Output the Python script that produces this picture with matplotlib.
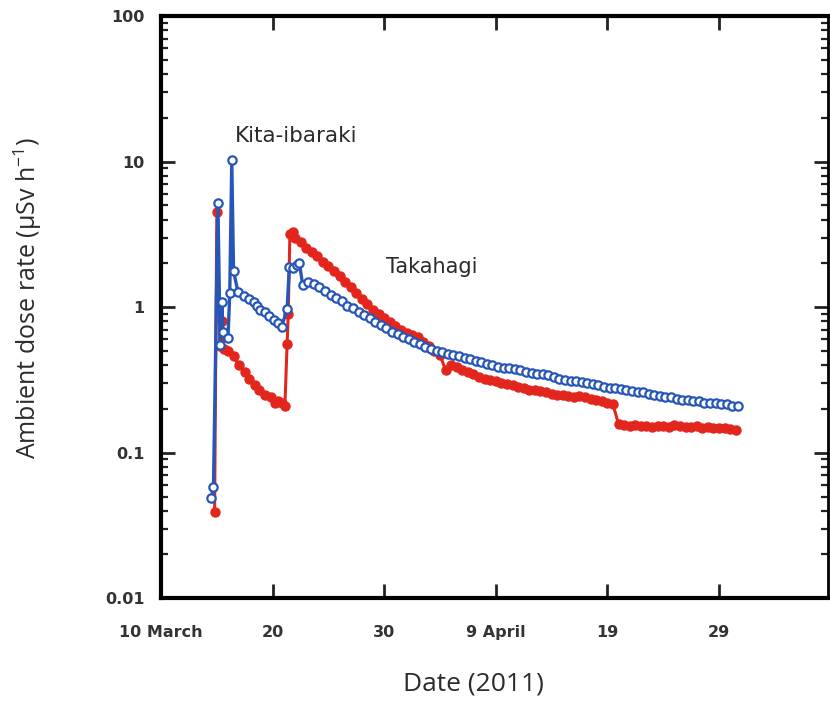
import numpy as np
from matplotlib import pyplot as plt
from matplotlib.ticker import LogLocator, NullFormatter, FixedLocator

# days after 10 March 2011, 00:00
kita_days_early = [4.5, 4.7, 5.1, 5.3, 5.45, 5.55, 6.0, 6.16, 6.34, 6.5, 6.9,
                   7.4, 7.9, 8.3, 8.6, 8.9, 9.3, 9.7, 10.1, 10.5, 10.8, 11.3,
                   11.5, 11.8, 12.2, 12.4]
kita_vals_early = [0.049, 0.058, 5.2, 0.55, 1.08, 0.68, 0.61, 1.25, 10.3, 1.77, 1.27,
                   1.19, 1.13, 1.08, 1.02, 0.96, 0.92, 0.87, 0.82, 0.78, 0.73, 0.97,
                   1.9, 1.85, 1.95, 2.0]
# half-day readings from 12.7 onwards
kita_vals_late = [1.42, 1.50, 1.45, 1.38, 1.30, 1.22, 1.15, 1.10, 1.02, 0.98,
                  0.93, 0.88, 0.84, 0.79, 0.76, 0.72, 0.68, 0.65, 0.62, 0.60,
                  0.58, 0.56, 0.53, 0.52, 0.50, 0.49, 0.48, 0.47, 0.46, 0.45,
                  0.44, 0.43, 0.42, 0.41, 0.40, 0.39, 0.385, 0.38, 0.375, 0.37,
                  0.36, 0.355, 0.35, 0.345, 0.34, 0.33, 0.32, 0.315, 0.31, 0.31,
                  0.305, 0.30, 0.295, 0.29, 0.285, 0.28, 0.28, 0.275, 0.27, 0.265,
                  0.26, 0.26, 0.255, 0.25, 0.245, 0.24, 0.24, 0.235, 0.23, 0.23,
                  0.225, 0.225, 0.22, 0.22, 0.22, 0.215, 0.215, 0.21, 0.21]

taka_days_early = [4.8, 5.0, 5.3, 5.45, 5.6, 6.0, 6.5, 7.0, 7.5, 7.9, 8.4, 8.8,
                   9.3, 9.9, 10.2, 10.5, 10.8, 11.1, 11.3, 11.4, 11.55, 11.8]
taka_vals_early = [0.039, 4.5, 0.54, 0.8, 0.52, 0.5, 0.46, 0.40, 0.36, 0.32, 0.29, 0.27,
                   0.25, 0.24, 0.22, 0.225, 0.22, 0.21, 0.56, 0.9, 3.2, 3.3]
# half-day readings from 12.0 onwards
taka_vals_late = [3.0, 2.8, 2.55, 2.4, 2.25, 2.05, 1.92, 1.78, 1.65, 1.5,
                  1.38, 1.25, 1.13, 1.05, 0.96, 0.9, 0.84, 0.79, 0.74, 0.70,
                  0.67, 0.64, 0.62, 0.58, 0.54, 0.50, 0.47, 0.37, 0.40, 0.39,
                  0.37, 0.36, 0.35, 0.33, 0.32, 0.315, 0.31, 0.30, 0.295, 0.29,
                  0.285, 0.28, 0.27, 0.27, 0.265, 0.26, 0.255, 0.25, 0.25, 0.245,
                  0.24, 0.245, 0.24, 0.235, 0.23, 0.225, 0.22, 0.215, 0.157, 0.155,
                  0.153, 0.155, 0.152, 0.152, 0.15, 0.153, 0.152, 0.15, 0.155, 0.152,
                  0.15, 0.15, 0.152, 0.148, 0.15, 0.148, 0.147, 0.148, 0.145, 0.143]

tick_days = [0, 10, 20, 30, 40, 50]
tick_labels = ["10 March", "20", "30", "9 April", "19", "29"]

kita_days = kita_days_early + list(12.7 + 0.5 * np.arange(len(kita_vals_late)))
kita_vals = kita_vals_early + kita_vals_late
taka_days = taka_days_early + list(12.0 + 0.5 * np.arange(len(taka_vals_late)))
taka_vals = taka_vals_early + taka_vals_late

blue = "#2656b8"
red = "#e3261d"
txt = "#2b2b2b"

fig = plt.figure(figsize=(8.3, 7.03), dpi=100)
ax = fig.add_axes([0.194, 0.149, 0.804, 0.828])

ax.plot(taka_days, taka_vals, color=red, lw=2.2, marker="o", ms=6.5,
        mfc=red, mec=red, zorder=2)
ax.plot(kita_days, kita_vals, color=blue, lw=2.4, marker="o", ms=6,
        mfc="white", mec=blue, mew=1.6, zorder=3)

ax.set_yscale("log")
ax.set_ylim(0.01, 100)
ax.set_xlim(0, 59.8)

ax.xaxis.set_major_locator(FixedLocator(tick_days))
ax.set_xticklabels(tick_labels)
ax.yaxis.set_major_locator(LogLocator(base=10))
ax.yaxis.set_minor_locator(LogLocator(base=10, subs=np.arange(2, 10)))
ax.yaxis.set_minor_formatter(NullFormatter())
ax.set_yticks([0.01, 0.1, 1, 10, 100])
ax.set_yticklabels(["0.01", "0.1", "1", "10", "100"])

ax.tick_params(axis="both", which="major", direction="in", length=10, width=2,
               top=True, right=True, labelsize=11.5, colors="#222222",
               labelcolor="#333333")
ax.tick_params(axis="y", which="minor", direction="in", length=5, width=1.6,
               right=True, colors="#222222")
ax.tick_params(axis="x", pad=19)
ax.tick_params(axis="y", pad=12)
for lab in ax.get_xticklabels() + ax.get_yticklabels():
    lab.set_fontweight("bold")

for side in ["left", "bottom", "top"]:
    ax.spines[side].set_linewidth(3)
ax.spines["right"].set_linewidth(2)

ax.text(6.6, 15, "Kita-ibaraki", fontsize=15.5, color=txt, va="center")
ax.text(20.2, 1.88, "Takahagi", fontsize=15, color=txt, va="center")

ax.set_xlabel("Date (2011)", fontsize=19, family="Open Sans", color=txt, labelpad=22)
ax.xaxis.set_label_coords(0.468, -0.125)
ax.set_ylabel("Ambient dose rate (μSv h$^{\\mathregular{-1}}$)", fontsize=18,
              family="Open Sans", color=txt)
ax.yaxis.set_label_coords(-0.176, 0.515)

fig.savefig("out.png", dpi=100)
